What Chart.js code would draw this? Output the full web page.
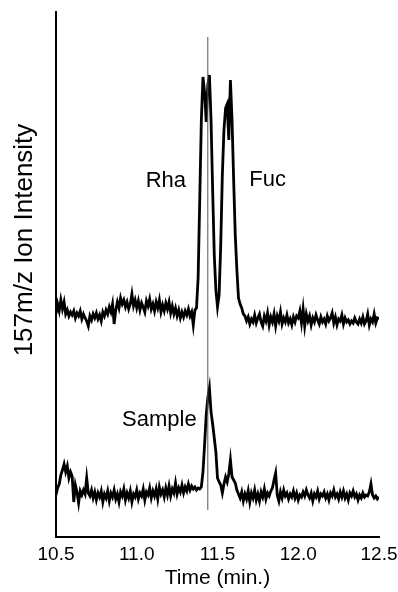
<!DOCTYPE html>
<html>
<head>
<meta charset="utf-8">
<script src="https://cdn.jsdelivr.net/npm/chart.js@4"></script>
<style>
  html, body { margin: 0; padding: 0; background: #fff; }
</style>
</head>
<body>
<canvas id="myChart" width="398" height="592"></canvas>
<script>
// sampling grid: 10.50 .. 12.50 min, every 0.01 min
const times = Array.from({ length: 201 }, (_, i) => +(10.5 + i * 0.01).toFixed(2));

// standards trace (Rha + Fuc)
const standards = [
  226, 236, 229, 240, 231, 238, 226, 230, 224, 228,
  225, 229, 222, 227, 224, 229, 221, 226, 222, 219,
  214, 224, 220, 226, 222, 227, 221, 225, 219, 228,
  224, 230, 226, 233, 228, 236, 216, 230, 238, 232,
  242, 236, 240, 233, 238, 231, 236, 246, 234, 240,
  232, 239, 230, 237, 233, 228, 239, 234, 241, 231,
  236, 229, 238, 232, 240, 228, 235, 229, 237, 231,
  238, 227, 234, 226, 232, 224, 230, 222, 228, 223,
  229, 225, 231, 224, 228, 215, 230, 232, 262, 340,
  420, 463, 448, 418, 455, 465, 420, 350, 285, 250,
  233, 245, 295, 365, 410, 432, 436, 400, 460, 420,
  360, 305, 270, 242, 236, 232, 226, 224, 219, 223,
  216, 221, 218, 225, 217, 222, 226, 218, 214, 224,
  219, 227, 215, 223, 218, 226, 214, 224, 219, 228,
  216, 222, 218, 225, 217, 221, 215, 223, 218, 224,
  222, 229, 217, 231, 214, 226, 219, 224, 215, 222,
  218, 225, 220, 216, 223, 218, 221, 216, 224, 219,
  222, 227, 217, 223, 215, 221, 219, 225, 216, 222,
  218, 220, 216, 219, 217, 222, 218, 216, 221, 217,
  223, 216, 219, 226, 215, 221, 218, 226, 217, 222,
  221
];

// sample trace
const sample = [
  45, 52, 56, 65, 70, 76, 68, 74, 62, 68,
  64, 38, 55, 48, 37, 49, 45, 50, 46, 62,
  47, 44, 50, 42, 48, 40, 47, 43, 49, 38,
  46, 42, 49, 39, 47, 43, 50, 41, 46, 38,
  48, 44, 51, 40, 47, 42, 49, 38, 46, 43,
  50, 41, 47, 44, 51, 40, 48, 45, 52, 42,
  49, 44, 51, 41, 53, 46, 50, 43, 52, 45,
  54, 44, 51, 47, 57, 46, 52, 48, 55, 47,
  53, 49, 56, 50, 54, 51, 53, 50, 52, 51,
  53, 68, 95, 125, 142, 152, 128, 116, 102, 88,
  62, 58, 55, 47, 56, 63, 58, 66, 80, 63,
  60, 57, 50, 46, 42, 48, 39, 46, 41, 49,
  38, 47, 42, 50, 40, 46, 39, 48, 43, 51,
  41, 47, 44, 49, 52, 60, 67, 45, 39, 48,
  42, 50, 44, 47, 41, 46, 43, 49, 42, 47,
  40, 45, 43, 48, 44, 50, 45, 42, 47, 39,
  46, 43, 49, 41, 46, 44, 48, 42, 46, 40,
  47, 44, 50, 43, 46, 41, 48, 43, 49, 42,
  46, 40, 47, 44, 49, 43, 46, 40, 45, 42,
  47, 43, 45, 44, 48, 56, 45, 42, 44, 41,
  43
];

// reference line through the Rha / sample peak
const markerTime = 11.44;
const markerRange = [30, 503];

const xTicks = [10.5, 11.0, 11.5, 12.0, 12.5];

const peakLabels = ["Rha", "Fuc", "Sample"];
const peakLabelX = [11.18, 11.81, 11.14];
const peakLabelY = [359, 360, 120];

const yTitle = "157m/z Ion Intensity";
const xTitle = "Time (min.)";

const FONT = "'Liberation Sans', Arial, sans-serif";

const toPoints = (vals) => vals.map((v, i) => ({ x: times[i], y: v }));

const textPlugin = {
  id: 'texts',
  afterDatasetsDraw(chart) {
    const { ctx, scales: { x, y } } = chart;
    ctx.save();
    ctx.fillStyle = '#000';
    ctx.font = `22px ${FONT}`;
    ctx.textAlign = 'center';
    ctx.textBaseline = 'middle';
    peakLabels.forEach((label, i) => {
      ctx.fillText(label, x.getPixelForValue(peakLabelX[i]), y.getPixelForValue(peakLabelY[i]));
    });
    // rotated y title
    ctx.translate(25, 240);
    ctx.rotate(-Math.PI / 2);
    ctx.font = `26px ${FONT}`;
    ctx.fillText(yTitle, 0, 0);
    ctx.restore();
  }
};

const ctx = document.getElementById('myChart').getContext('2d');

const myChart = new Chart(ctx, {
  type: 'line',
  data: {
    datasets: [
      {
        data: [{ x: markerTime, y: markerRange[0] }, { x: markerTime, y: markerRange[1] }],
        borderColor: '#555',
        borderWidth: 1,
        pointRadius: 0
      },
      {
        data: toPoints(standards),
        borderColor: '#000',
        borderWidth: 2.8,
        pointRadius: 0,
        tension: 0
      },
      {
        data: toPoints(sample),
        borderColor: '#000',
        borderWidth: 2.8,
        pointRadius: 0,
        tension: 0
      }
    ]
  },
  options: {
    responsive: false,
    animation: false,
    layout: { padding: { top: 12, right: 19, left: 0, bottom: 0 } },
    plugins: {
      legend: { display: false },
      tooltip: { enabled: false }
    },
    scales: {
      x: {
        type: 'linear',
        min: 10.5,
        max: 12.5,
        afterFit: (scale) => {
          scale.height = 55;
          scale.paddingLeft = 0;
          scale.paddingRight = 0;
        },
        afterBuildTicks: (scale) => { scale.ticks = xTicks.map(v => ({ value: v })); },
        grid: { display: false, drawTicks: false },
        border: { display: true, color: '#000', width: 2 },
        ticks: {
          color: '#000',
          padding: 6,
          font: { family: FONT, size: 19 },
          callback: (v) => v.toFixed(1)
        },
        title: {
          display: true,
          text: xTitle,
          color: '#000',
          font: { family: FONT, size: 21 },
          padding: { top: 0, bottom: 1 }
        }
      },
      y: {
        min: 3,
        max: 528,
        afterFit: (scale) => { scale.width = 56; },
        grid: { display: false, drawTicks: false },
        border: { display: true, color: '#000', width: 2 },
        ticks: { display: false }
      }
    }
  },
  plugins: [textPlugin]
});
</script>
</body>
</html>
